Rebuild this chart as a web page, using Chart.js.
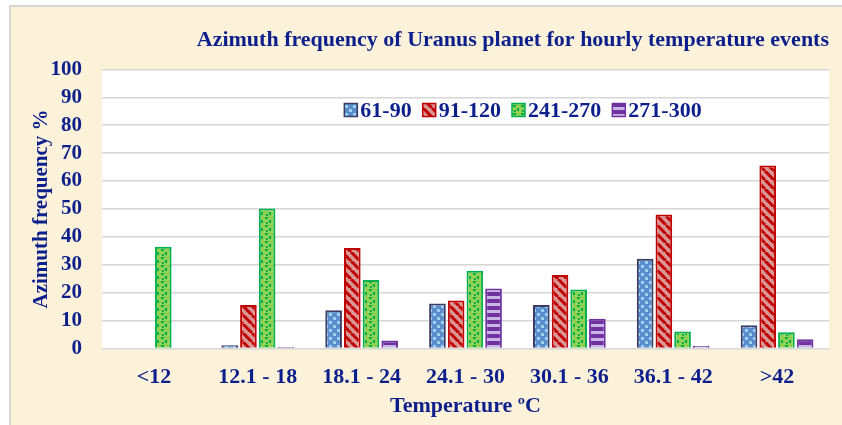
<!DOCTYPE html>
<html>
<head>
<meta charset="utf-8">
<script src="https://cdn.jsdelivr.net/npm/chart.js@4.4.1/dist/chart.umd.min.js"></script>
<style>
  html, body { margin: 0; padding: 0; background: #fff; }
  #wrap { width: 842px; height: 425px; }
</style>
</head>
<body>
<div id="wrap"><canvas id="chartAz" width="842" height="425"></canvas></div>
<script>
const categories = ["<12", "12.1 - 18", "18.1 - 24", "24.1 - 30", "30.1 - 36", "36.1 - 42", ">42"];
const seriesNames = ["61-90", "91-120", "241-270", "271-300"];
const az61to90 = [0, 1.2, 13.7, 16.1, 15.6, 32.2, 8.3];
const az91to120 = [0, 15.6, 36.0, 17.2, 26.3, 48.0, 65.6];
const az241to270 = [36.5, 50.2, 24.5, 27.9, 21.1, 6.1, 5.8];
const az271to300 = [0, 0.5, 2.9, 21.5, 10.7, 0.9, 3.3];
const yTicks = [0, 10, 20, 30, 40, 50, 60, 70, 80, 90, 100];

const navy = "#0d1f8c";
const serif = "'Liberation Serif', 'Times New Roman', serif";

function makePattern(size, draw) {
  const c = document.createElement("canvas");
  c.width = size; c.height = size;
  const g = c.getContext("2d");
  draw(g, size);
  return g.createPattern(c, "repeat");
}

const bluePat = makePattern(8, function (g) {
  g.fillStyle = "#5a8ccc"; g.fillRect(0, 0, 8, 8);
  g.fillStyle = "#98d2ee"; g.fillRect(1, 1, 3, 3); g.fillRect(5, 5, 3, 3);
});
const redPat = makePattern(9, function (g) {
  g.fillStyle = "#d99694"; g.fillRect(0, 0, 9, 9);
  g.strokeStyle = "#c00000"; g.lineWidth = 3;
  [-9, 0, 9].forEach(function (o) {
    g.beginPath(); g.moveTo(o, 0); g.lineTo(o + 9, 9); g.stroke();
  });
});
const greenPat = makePattern(8, function (g) {
  g.fillStyle = "#92d050"; g.fillRect(0, 0, 8, 8);
  g.fillStyle = "#00b050";
  g.fillRect(1, 1, 3, 2); g.fillRect(5, 4, 2, 3); g.fillRect(2, 6, 2, 2);
});
const purplePat = makePattern(7, function (g) {
  g.fillStyle = "#7030a0"; g.fillRect(0, 0, 7, 7);
  g.fillStyle = "#c6b8e2"; g.fillRect(0, 2, 7, 3);
});

const backdrop = {
  id: "backdrop",
  beforeDraw(chart) {
    const ctx = chart.ctx, a = chart.chartArea;
    ctx.save();
    ctx.fillStyle = "#ffffff";
    ctx.fillRect(0, 0, chart.width, chart.height);
    ctx.fillStyle = "#fbf2d9";
    ctx.fillRect(10, 6, chart.width - 10, chart.height - 6);
    ctx.strokeStyle = "#d6d6d6"; ctx.lineWidth = 2;
    ctx.beginPath(); ctx.moveTo(10, chart.height); ctx.lineTo(10, 6); ctx.lineTo(chart.width, 6); ctx.stroke();
    ctx.fillStyle = "#ffffff";
    ctx.fillRect(a.left, a.top, a.right - a.left, a.bottom - a.top);
    ctx.restore();
  }
};

const innerLegend = {
  id: "innerLegend",
  afterDraw(chart) {
    const ctx = chart.ctx;
    const box = 13, gapBox = 3, gapItem = 11;
    ctx.save();
    ctx.font = "bold 22px " + serif;
    ctx.textBaseline = "middle";
    const items = chart.data.datasets.map(function (ds) {
      return { ds: ds, w: ctx.measureText(ds.label).width };
    });
    let total = 0;
    items.forEach(function (it, i) { total += box + gapBox + it.w + (i ? gapItem : 0); });
    let x = 523 - total / 2;
    const y = 110;
    items.forEach(function (it) {
      ctx.fillStyle = it.ds.backgroundColor;
      ctx.fillRect(x, y - box / 2, box, box);
      ctx.strokeStyle = it.ds.borderColor; ctx.lineWidth = 1.5;
      ctx.strokeRect(x, y - box / 2, box, box);
      x += box + gapBox;
      ctx.fillStyle = navy;
      ctx.fillText(it.ds.label, x, y + 1);
      x += it.w + gapItem;
    });
    ctx.restore();
  }
};

const ctx = document.getElementById("chartAz").getContext("2d");
new Chart(ctx, {
  type: "bar",
  data: {
    labels: categories,
    datasets: [
      { label: seriesNames[0], data: az61to90, backgroundColor: bluePat, borderColor: "#3d3b63", borderWidth: 2 },
      { label: seriesNames[1], data: az91to120, backgroundColor: redPat, borderColor: "#c00000", borderWidth: 2 },
      { label: seriesNames[2], data: az241to270, backgroundColor: greenPat, borderColor: "#00b050", borderWidth: 2 },
      { label: seriesNames[3], data: az271to300, backgroundColor: purplePat, borderColor: "#7030a0", borderWidth: 2 }
    ]
  },
  options: {
    responsive: false,
    animation: false,
    categoryPercentage: 0.72,
    barPercentage: 0.89,
    layout: { padding: { left: 10, right: 13, top: 8, bottom: 0 } },
    plugins: {
      legend: { display: false },
      tooltip: { enabled: false },
      title: {
        display: true,
        text: "Azimuth frequency of Uranus planet for hourly temperature events",
        align: "end",
        color: navy,
        font: { family: serif, size: 22, weight: "bold" },
        padding: { top: 19, bottom: 16 }
      }
    },
    scales: {
      x: {
        grid: { display: false },
        border: { display: false },
        ticks: { color: navy, font: { family: serif, size: 22, weight: "bold" }, padding: 8, maxRotation: 0, autoSkip: false },
        title: {
          display: true, text: "Temperature \u00baC", color: navy,
          font: { family: serif, size: 22, weight: "bold" }, padding: { top: 0, bottom: 5 }
        },
        afterFit(scale) { scale.height = 76.5; }
      },
      y: {
        min: 0, max: 100,
        afterBuildTicks(scale) { scale.ticks = yTicks.map(function (v) { return { value: v }; }); },
        grid: { color: "#d6d6d6", lineWidth: 1.5, drawTicks: false },
        border: { display: false },
        ticks: { color: navy, font: { family: serif, size: 21, weight: "bold" }, padding: 20, autoSkip: false },
        title: {
          display: true, text: "Azimuth frequency %", color: navy,
          font: { family: serif, size: 21, weight: "bold" }, padding: { top: 19, bottom: 0 }
        },
        afterFit(scale) { scale.width = 92; }
      }
    }
  },
  plugins: [backdrop, innerLegend]
});
</script>
</body>
</html>
